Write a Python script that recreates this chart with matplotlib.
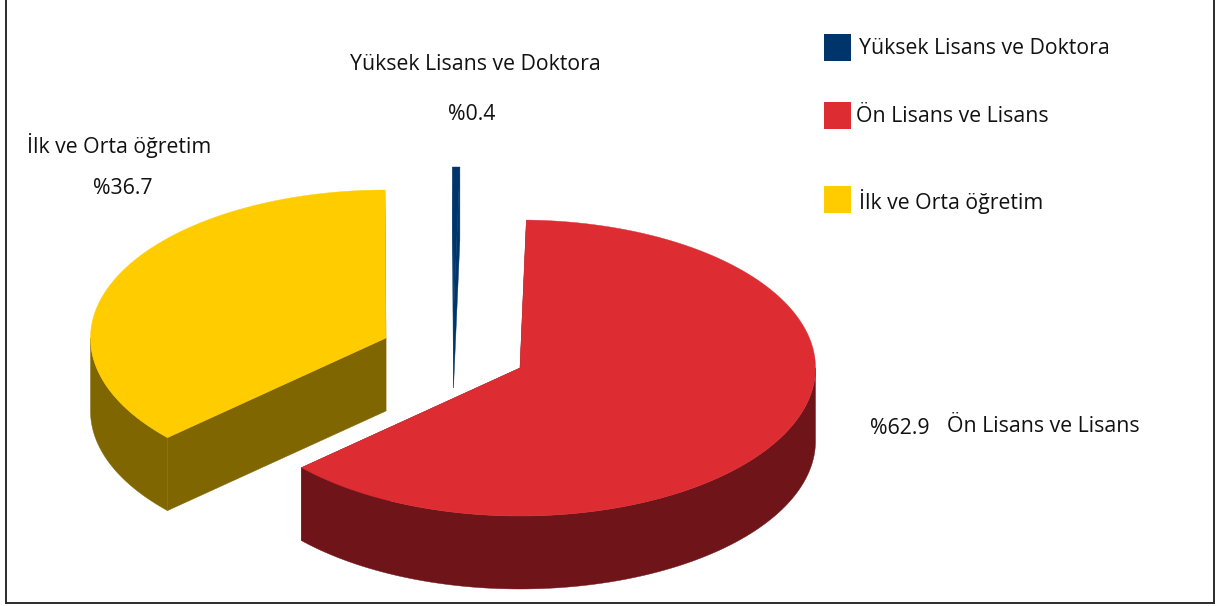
import numpy as np
import matplotlib
matplotlib.use("Agg")
import matplotlib.pyplot as plt
from matplotlib.patches import Polygon, Rectangle

categories = ["Yüksek Lisans ve Doktora", "Ön Lisans ve Lisans", "İlk ve Orta öğretim"]
values = [0.4, 62.9, 36.7]
value_labels = ["%0.4", "%62.9", "%36.7"]
top_colors = ["#00356B", "#DE2C33", "#FFCC00"]
side_colors = ["#00356B", "#6F1519", "#806600"]

W, H = 1219, 606
RX, RY, DEPTH = 295.5, 148.0, 73.0
centers = {0: (453.5, 315.0), 1: (520.0, 368.0), 2: (386.0, 338.0)}

plt.rcParams["font.family"] = ["Open Sans", "DejaVu Sans"]
fig = plt.figure(figsize=(W / 100, H / 100), dpi=100, facecolor="white")
ax = fig.add_axes([0, 0, 1, 1])
ax.set_xlim(0, W)
ax.set_ylim(H, 0)
ax.axis("off")

ax.add_patch(Rectangle((5.5, -2), 1208, 605, fill=False, ec="#2b2b2b", lw=1.4))


def arc(c, a0, a1, n=240):
    t = np.radians(np.linspace(a0, a1, n))
    return np.column_stack([c[0] + RX * np.sin(t), c[1] - RY * np.cos(t)])


def slice3d(c, a0, a1, top, side, z):
    dy = np.array([0, DEPTH])
    pts = arc(c, a0, a1)
    centre = np.array(c, float)
    for p in (pts[0], pts[-1]):
        ax.add_patch(Polygon([centre, p, p + dy, centre + dy], closed=True, fc=side, ec=side, lw=0.3, zorder=z))
    lo, hi = max(a0, 90), min(a1, 270)
    if hi > lo:
        rim = arc(c, lo, hi)
        ax.add_patch(Polygon(np.vstack([rim, (rim + dy)[::-1]]), closed=True, fc=side, ec=side, lw=0.3, zorder=z + 1))
    ax.add_patch(Polygon(np.vstack([centre, pts]), closed=True, fc=top, ec=top, lw=0.3, zorder=z + 2))


cum = np.cumsum([0] + values)
start = -0.2
angles = start + cum * 3.6
order = [2, 0, 1]
for i in order:
    slice3d(centers[i], angles[i], angles[i + 1], top_colors[i], side_colors[i], 10 * (order.index(i) + 1))

FS = 15.3
TC = "#111111"
ax.text(475, 65, categories[0], fontsize=FS, color=TC, ha="center", va="center")
ax.text(472, 115, value_labels[0], fontsize=FS, color=TC, ha="center", va="center")
ax.text(119, 146, categories[2], fontsize=FS, color=TC, ha="center", va="center")
ax.text(123, 188, value_labels[2], fontsize=FS, color=TC, ha="center", va="center")
ax.text(900, 429, value_labels[1], fontsize=FS, color=TC, ha="center", va="center")
ax.text(1043, 427, categories[1], fontsize=FS, color=TC, ha="center", va="center")

legend_y = [47, 115, 199]
legend_x = [859, 856, 859]
for name, col, y, tx in zip(categories, top_colors, legend_y, legend_x):
    ax.add_patch(Rectangle((824, y - 13.5), 27, 27, fc=col, ec="none"))
    ax.text(tx, y + 2, name, fontsize=FS, color=TC, ha="left", va="center")

fig.savefig("out.png", dpi=100)
